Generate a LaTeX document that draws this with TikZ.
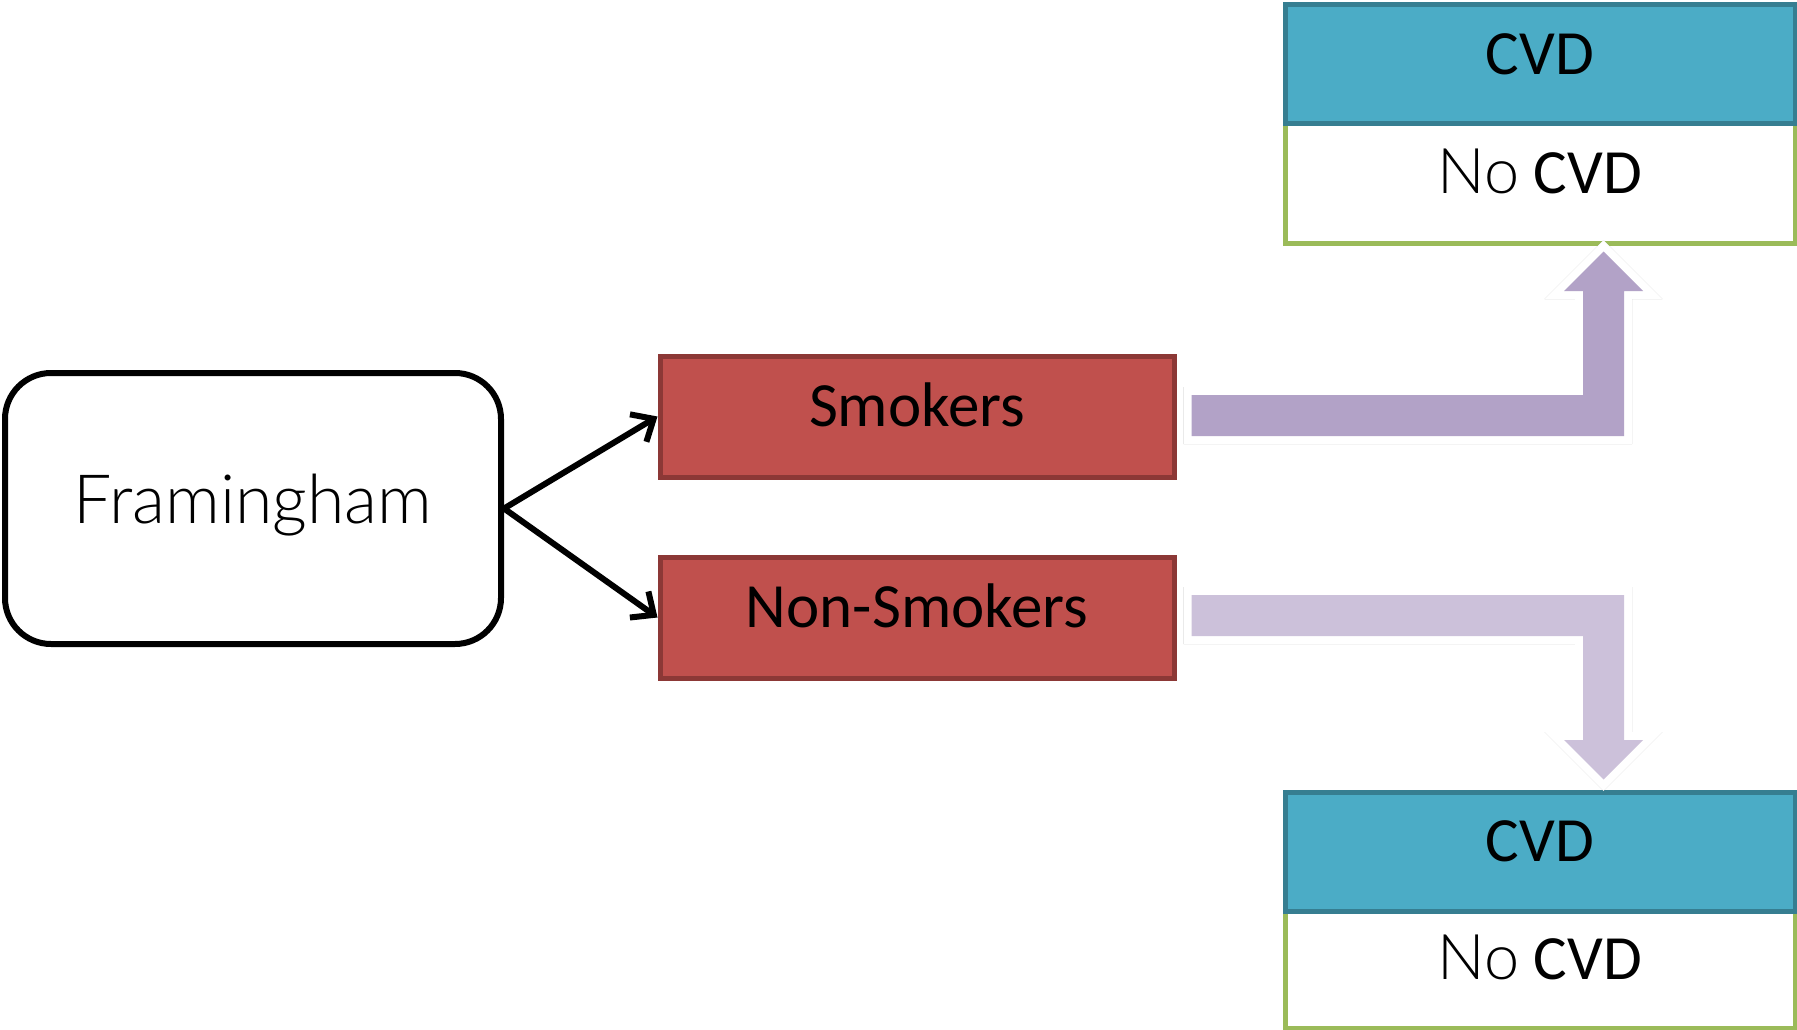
\documentclass[tikz,border=0pt]{standalone}
\usepackage{fontspec}
\setmainfont{Carlito}
\newfontfamily\lightfont{Lato Light}
\usetikzlibrary{arrows.meta,calc}

\definecolor{smkfill}{HTML}{C0504D}
\definecolor{smkline}{HTML}{8C3836}
\definecolor{cvdfill}{HTML}{4BACC6}
\definecolor{cvdline}{HTML}{367E91}
\definecolor{nocvdline}{HTML}{9BBB59}
\definecolor{uparrow}{HTML}{B2A2C7}
\definecolor{downarrow}{HTML}{CCC1DA}

\tikzset{
  bigtext/.style={font=\fontsize{63}{70}\selectfont, text height=40pt, text depth=20pt},
  groupbox/.style={draw=smkline, fill=smkfill, line width=5pt,
    minimum width=514, minimum height=121, inner sep=0pt, bigtext},
  cvdbox/.style={draw=cvdline, fill=cvdfill, line width=5pt,
    minimum width=510, minimum height=119, inner sep=0pt, bigtext},
  nocvdbox/.style={draw=nocvdline, fill=white, line width=5pt,
    minimum width=510, minimum height=119, inner sep=0pt, bigtext},
  studybox/.style={draw=black, fill=white, line width=6pt, rounded corners=46,
    minimum width=496, minimum height=271, inner sep=0pt,
    font=\lightfont\fontsize{68}{76}\selectfont, text height=50pt, text depth=20pt},
  link/.style={draw=black, line width=6pt,
    -{Straight Barb[length=18pt, width=32pt, line width=6pt]}},
  blockshadow/.style={draw=black, line width=16pt, line join=miter},
  blockrim/.style={draw=white, line width=16pt, line join=miter},
}

\begin{document}
\begin{tikzpicture}[x=1pt, y=-1pt]
  \useasboundingbox (0,0) rectangle (1797,1030);

  % study cohort and the two exposure groups
  \node[studybox] (fram) at (253, 508.5) {Framingham};
  \node[groupbox] (smk) at (917, 416.5) {Smokers};
  \node[groupbox] (nsm) at (917, 617.5) {Non-Smokers};

  % outcome tables
  \node[nocvdbox] (topno) at (1540, 183.5) {{\lightfont No} CVD};
  \node[cvdbox] (topcvd) at (1540, 64.5) {CVD};
  \node[nocvdbox, minimum height=117] (botno) at (1540, 969.5) {{\lightfont No} CVD};
  \node[cvdbox] (botcvd) at (1540, 851.5) {CVD};

  % cohort split
  \draw[link] (fram.east) -- (smk.west);
  \draw[link] (fram.east) -- (nsm.west);

  % bent block arrows to the outcomes
  \coordinate (ua) at ($(smk.east)+(15,-1)$);
  \coordinate (ut) at ($(topno.south)+(63.5,6)$);
  \coordinate (da) at ($(nsm.east)+(15,-2)$);
  \coordinate (dt) at ($(botcvd.north)+(63.5,-10)$);

  \def\uppath{($(ua)+(0,20.5)$) -- ($(ut|-ua)+(20.5,20.5)$) -- ($(ut)+(20.5,39.5)$)
    -- ($(ut)+(39.5,39.5)$) -- (ut) -- ($(ut)+(-39.5,39.5)$) -- ($(ut)+(-20.5,39.5)$)
    -- ($(ut|-ua)+(-20.5,-20.5)$) -- ($(ua)+(0,-20.5)$) -- cycle}
  \def\downpath{($(da)+(0,-20.5)$) -- ($(dt|-da)+(20.5,-20.5)$) -- ($(dt)+(20.5,-39.5)$)
    -- ($(dt)+(39.5,-39.5)$) -- (dt) -- ($(dt)+(-39.5,-39.5)$) -- ($(dt)+(-20.5,-39.5)$)
    -- ($(dt|-da)+(-20.5,20.5)$) -- ($(da)+(0,20.5)$) -- cycle}

  % soft drop shadow under the white rims
  \foreach \o/\op in {6/0.08, 4.5/0.12, 3/0.18} {
    \begin{scope}[shift={(0.4*\o,\o)}]
      \draw[blockshadow, draw opacity=\op] \uppath;
      \draw[blockshadow, draw opacity=\op] \downpath;
    \end{scope}
  }
  \draw[blockrim] \uppath;
  \draw[blockrim] \downpath;
  \fill[uparrow] \uppath;
  \fill[downarrow] \downpath;
\end{tikzpicture}
\end{document}
